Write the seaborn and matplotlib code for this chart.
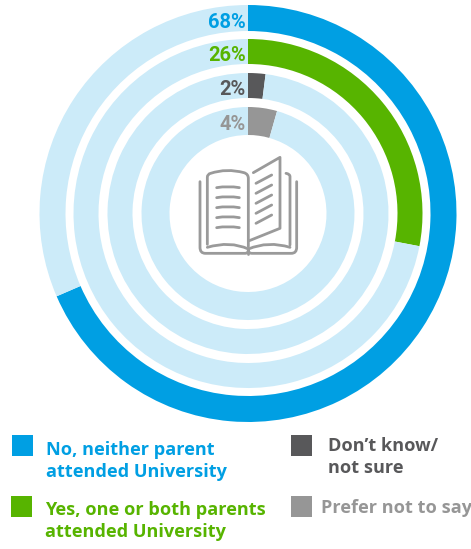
import matplotlib
matplotlib.use("Agg")
import matplotlib.pyplot as plt
from matplotlib.path import Path
from matplotlib.patches import PathPatch, Rectangle
import seaborn as sns

sns.set_theme(style="white")
plt.rcParams['font.family'] = ['Open Sans', 'DejaVu Sans']

categories = ["No, neither parent\nattended University",
              "Yes, one or both parents\nattended University",
              "Don\u2019t know/\nnot sure",
              "Prefer not to say"]
labels = ["68%", "26%", "2%", "4%"]
# arc lengths as actually drawn in the picture (percent of a full turn)
arcs = [68.5, 28.0, 2.0, 4.4]
colors = ["#009FE3", "#57B400", "#58585A", "#969696"]
pale = "#CCEBF9"
outer_radii = [208.5, 174.5, 140.5, 106.5]
widths = [26, 25, 25, 28]

W, H = 471, 549
CX, CY = 248, 213.5
fig = plt.figure(figsize=(W / 100, H / 100), dpi=100, facecolor="white")
ax = fig.add_axes([0, 0, 1, 1])
for a, c, r, w in zip(arcs, colors, outer_radii, widths):
    ax.pie([a, 100 - a], colors=[c, pale], radius=r, startangle=90, counterclock=False,
           wedgeprops=dict(width=w, linewidth=0))
ax.set_xlim(-CX, W - CX)
ax.set_ylim(-(H - CY), CY)
ax.set_aspect("equal")
ax.axis("off")

ov = fig.add_axes([0, 0, 1, 1], facecolor="none")
ov.set_xlim(0, W)
ov.set_ylim(H, 0)
ov.axis("off")

# percentage labels
for lab, c, r, w in zip(labels, colors, outer_radii, widths):
    ov.text(CX - 2, CY - r + w / 2 + 2, lab, color=c, ha="right", va="center_baseline",
            fontsize=14.5, fontweight="bold", family=["Roboto", "DejaVu Sans"])

# legend
sq = [(12, 435), (11, 496), (291, 435), (291, 496)]
txt = [(46, 461), (45, 521), (328, 457), (321, 508)]
for (x, y), (tx, ty), cat, c in zip(sq, txt, categories, colors):
    ov.add_patch(Rectangle((x, y), 21, 21, color=c, lw=0))
    ov.text(tx, ty, cat, color=c, ha="left", va="center", fontsize=13.05, fontweight="bold",
            linespacing=1.34)

# book icon (zoomed-crop coordinates mapped back to the figure)
def P(x, y):
    return (190 + x / 3, 150 + y / 3)

def stroke(points, lw=2.0):
    verts = [P(*points[0])]
    codes = [Path.MOVETO]
    for seg in points[1:]:
        if len(seg) == 4:
            verts += [P(seg[0], seg[1]), P(seg[2], seg[3])]
            codes += [Path.CURVE3, Path.CURVE3]
        else:
            verts.append(P(*seg))
            codes.append(Path.LINETO)
    ov.add_patch(PathPatch(Path(verts, codes), fill=False, edgecolor="#9A9A9A", lw=lw,
                           capstyle="round", joinstyle="round"))

stroke([(52, 283), (52, 82), (52, 72, 62, 70), (110, 54, 162, 68), (175, 72, 175, 85), (175, 290)])
stroke([(190, 68), (270, 22), (270, 235), (178, 272)])
stroke([(30, 95), (30, 292), (30, 310, 46, 310), (165, 310), (175, 310, 175, 300),
        (175, 310, 186, 310), (304, 310), (320, 310, 320, 292), (320, 95)])
stroke([(288, 70), (300, 72, 300, 80), (300, 285)])
stroke([(52, 292), (120, 272, 175, 297), (235, 272, 300, 292)])
stroke([(175, 297), (175, 312)])
for y in [113, 143, 173, 203, 233]:
    stroke([(80, y), (114, y - 6, 148, y)])
for y in [100, 130, 160, 190, 220]:
    stroke([(198, y), (245, y - 25)])

fig.savefig("out.png", dpi=100, facecolor="white")
